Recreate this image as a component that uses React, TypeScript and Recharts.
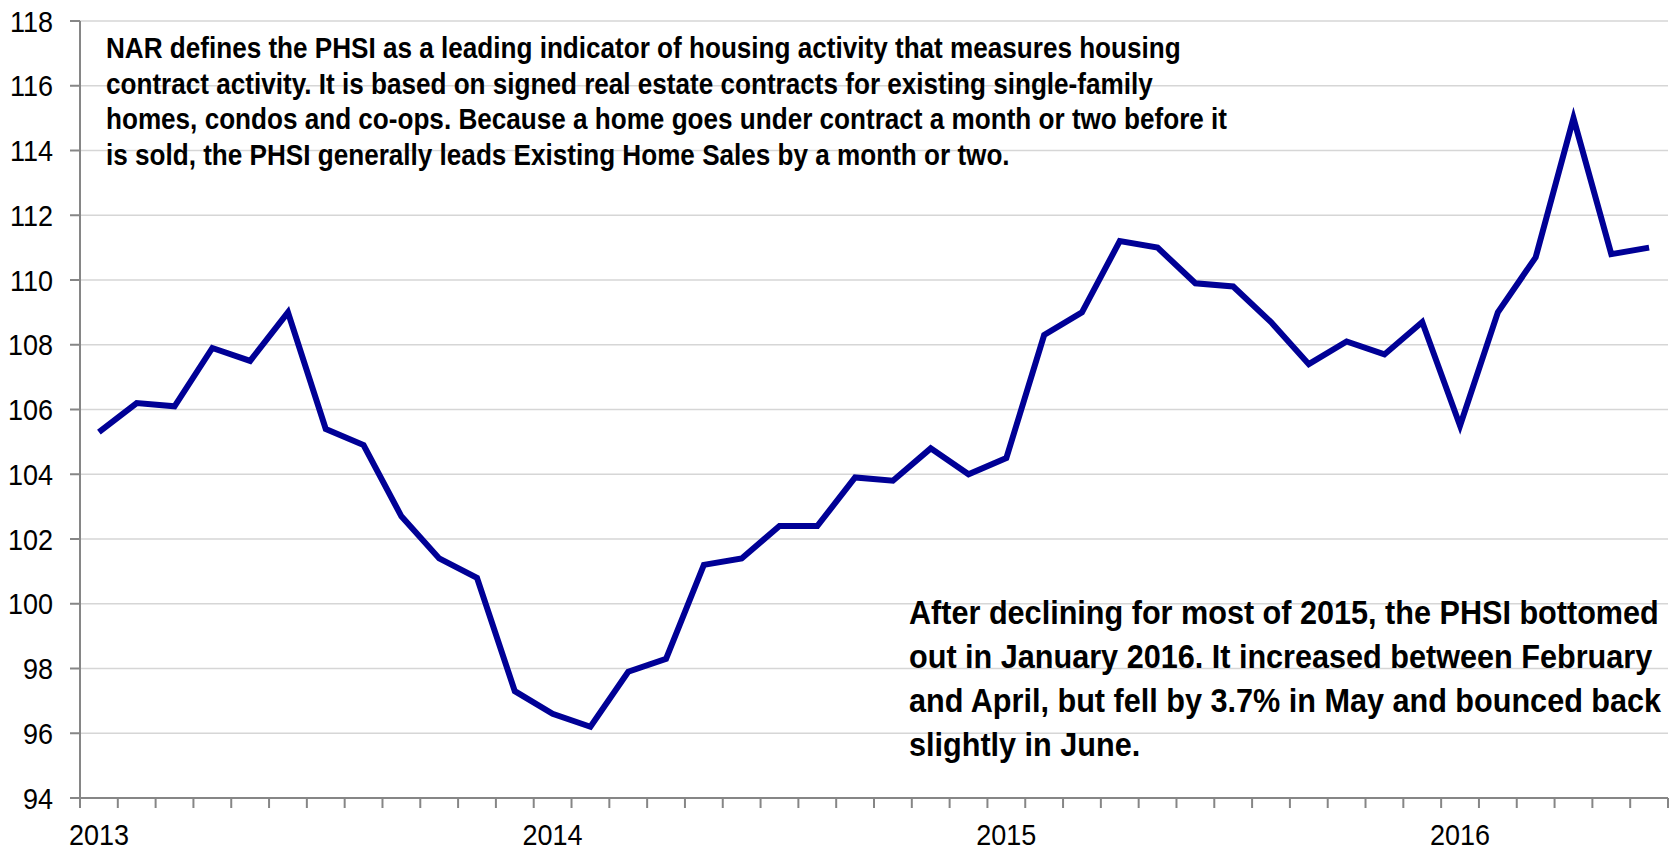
import React from "react";
import { LineChart, Line, XAxis, YAxis, CartesianGrid } from "recharts";

// monthly categories, Jan 2013 .. Jun 2016
const months = [
  "Jan 2013", "Feb 2013", "Mar 2013", "Apr 2013", "May 2013", "Jun 2013",
  "Jul 2013", "Aug 2013", "Sep 2013", "Oct 2013", "Nov 2013", "Dec 2013",
  "Jan 2014", "Feb 2014", "Mar 2014", "Apr 2014", "May 2014", "Jun 2014",
  "Jul 2014", "Aug 2014", "Sep 2014", "Oct 2014", "Nov 2014", "Dec 2014",
  "Jan 2015", "Feb 2015", "Mar 2015", "Apr 2015", "May 2015", "Jun 2015",
  "Jul 2015", "Aug 2015", "Sep 2015", "Oct 2015", "Nov 2015", "Dec 2015",
  "Jan 2016", "Feb 2016", "Mar 2016", "Apr 2016", "May 2016", "Jun 2016",
];

// Pending Home Sales Index
const phsi = [
  105.3, 106.2, 106.1, 107.9, 107.5, 109.0, 105.4, 104.9, 102.7, 101.4, 100.8, 97.3,
  96.6, 96.2, 97.9, 98.3, 101.2, 101.4, 102.4, 102.4, 103.9, 103.8, 104.8, 104.0,
  104.5, 108.3, 109.0, 111.2, 111.0, 109.9, 109.8, 108.7, 107.4, 108.1, 107.7, 108.7,
  105.5, 109.0, 110.7, 115.0, 110.8, 111.0,
];

const yTicks = [94, 96, 98, 100, 102, 104, 106, 108, 110, 112, 114, 116, 118];

const topNote = [
  "NAR defines the PHSI as a leading indicator of housing activity that measures housing",
  "contract activity. It is based on signed real estate contracts for existing single-family",
  "homes, condos and co-ops. Because a home goes under contract a month or two before it",
  "is sold, the PHSI generally leads Existing Home Sales by a month or two.",
];

const bottomNote = [
  "After declining for most of 2015, the PHSI bottomed",
  "out in January 2016. It increased between February",
  "and April, but fell by 3.7% in May and bounced back",
  "slightly in June.",
];

// no Arial Narrow here, so squeeze Liberation Sans (Arial metrics) horizontally
const FONT = '"Liberation Sans", Arial, sans-serif';
const NARROW = 0.9;
const AXIS = "#868686";

const data = months.map((m, i) => ({ month: m, pos: i + 0.5, phsi: phsi[i] }));

// year labels sit under January of each year, tick marks between months
const yearLabels = new Map<number, string>();
months.forEach((m, i) => {
  if (m.startsWith("Jan")) yearLabels.set(i + 0.5, m.slice(4));
});
const boundaryTicks = [...months.map((_, i) => i), months.length];
const xTicks = [...boundaryTicks, ...yearLabels.keys()].sort((a, b) => a - b);

const XTick = (props: any) => {
  const { x, y, payload } = props;
  const label = yearLabels.get(payload.value);
  if (label) {
    return (
      <text
        transform={`translate(${x},${y}) scale(${NARROW},1)`}
        dy={37}
        textAnchor="middle"
        fontFamily={FONT}
        fontSize={30}
        fill="#000"
      >
        {label}
      </text>
    );
  }
  return <line x1={x} x2={x} y1={y - 10} y2={y} stroke={AXIS} strokeWidth={2} />;
};

const YTick = (props: any) => {
  const { x, y, payload } = props;
  return (
    <text
      transform={`translate(${x},${y}) scale(${NARROW},1)`}
      dy="0.355em"
      textAnchor="end"
      fontFamily={FONT}
      fontSize={30}
      fill="#000"
    >
      {payload.value}
    </text>
  );
};

const noteStyle: React.CSSProperties = {
  position: "absolute",
  fontFamily: FONT,
  fontWeight: "bold",
  whiteSpace: "nowrap",
  color: "#000",
  transform: `scaleX(${NARROW})`,
  transformOrigin: "left top",
};

export default function App() {
  return (
    <div style={{ position: "absolute", left: 0, top: 0, width: 1673, height: 853, background: "#fff", overflow: "hidden" }}>
      <LineChart
        width={1673}
        height={853}
        data={data}
        margin={{ top: 21, right: 5, left: 0, bottom: 0 }}
      >
        <CartesianGrid vertical={false} stroke="#d6d6d6" strokeWidth={1.5} />
        <XAxis
          dataKey="pos"
          type="number"
          domain={[0, months.length]}
          ticks={xTicks}
          interval={0}
          height={55}
          tickSize={10}
          tickMargin={0}
          tickLine={false}
          axisLine={{ stroke: AXIS, strokeWidth: 2 }}
          tick={<XTick />}
        />
        <YAxis
          type="number"
          domain={[94, 118]}
          ticks={yTicks}
          interval={0}
          width={80}
          tickSize={10}
          tickMargin={17}
          tickLine={{ stroke: AXIS, strokeWidth: 2 }}
          axisLine={{ stroke: AXIS, strokeWidth: 2 }}
          tick={<YTick />}
        />
        <Line
          type="linear"
          dataKey="phsi"
          stroke="#000096"
          strokeWidth={6}
          dot={false}
          isAnimationActive={false}
        />
      </LineChart>
      <div style={{ ...noteStyle, left: 106, top: 31, fontSize: 29, lineHeight: "35.5px" }}>
        {topNote.map((t) => (
          <div key={t}>{t}</div>
        ))}
      </div>
      <div style={{ ...noteStyle, left: 909, top: 590, fontSize: 34, lineHeight: "44px" }}>
        {bottomNote.map((t) => (
          <div key={t}>{t}</div>
        ))}
      </div>
    </div>
  );
}
